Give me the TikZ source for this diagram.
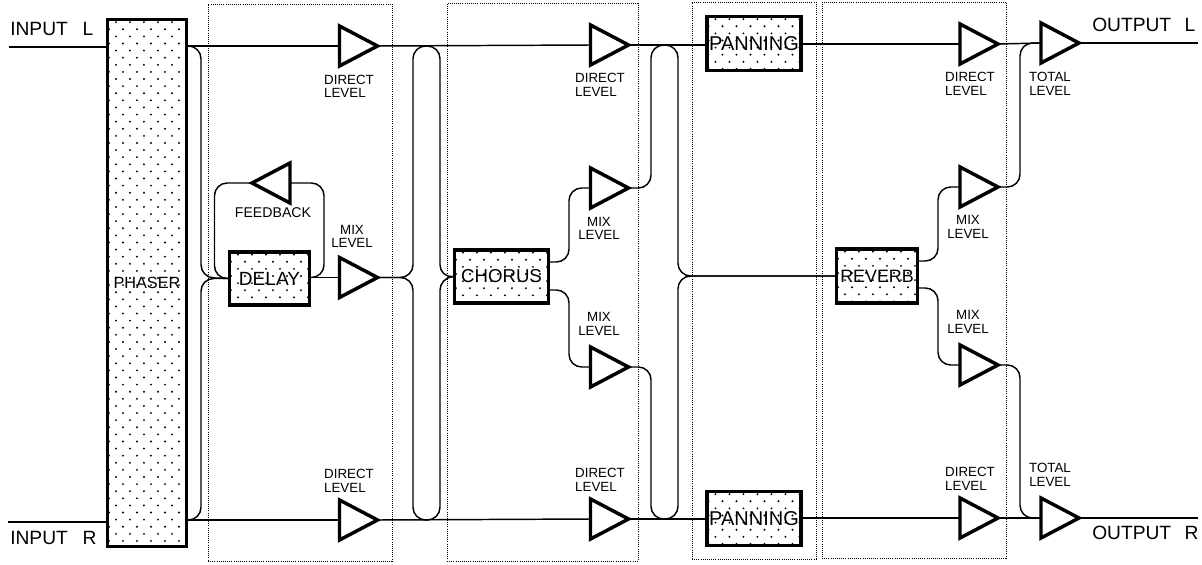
\documentclass[tikz,border=0pt]{standalone}
\usepackage{fontspec}
\setmainfont{Liberation Sans}
\usetikzlibrary{shapes.geometric}
\newcommand{\fs}[1]{\fontsize{#1}{#1}\selectfont}
\tikzset{
  x=0.75pt,y=-0.75pt,
  wire/.style={line width=1.1pt,rounded corners=9.5pt},
  frame/.style={draw,densely dotted,line width=0.6pt},
  amp/.style={draw,line width=2.6pt,isosceles triangle,isosceles triangle apex angle=55,isosceles triangle stretches,
    minimum width=30pt,minimum height=28.5pt,inner sep=0pt,outer sep=0pt,fill=white,anchor=lower side},
  ampr/.style={amp,shape border rotate=0},
  ampl/.style={amp,shape border rotate=180},
  stipple/.style={draw,line width=2.4pt,fill=white,inner sep=0pt,outer sep=0pt,align=center,
    path picture={
      \foreach \i in {0,...,75}{\foreach \j in {-1,...,7}{
        \pgfmathsetmacro\xx{\j*10.5+1.1+(1-mod(\i,2))*5.25}
        \pgfmathsetmacro\yy{2+\i*5.33}
        \fill[black] ([xshift=\xx pt,yshift=-\yy pt]path picture bounding box.north west) circle (0.8pt);
      }}}},
  lab/.style={font=\fs{10},align=left,inner sep=0pt},
  io/.style={font=\fs{14.4},inner sep=0pt,anchor=west}
}
\begin{document}
\begin{tikzpicture}
\useasboundingbox (0,0) rectangle (1202,564);
\fill[white] (0,0) rectangle (1202,564);
% dotted section frames
\node[frame,minimum width=138pt,minimum height=417.75pt,inner sep=0pt] (secA) at (300,282.5) {};
\node[frame,minimum width=143.25pt,minimum height=418.5pt,inner sep=0pt] (secB) at (542.5,282) {};
\node[frame,minimum width=93pt,minimum height=417.75pt,inner sep=0pt] (secC) at (754,280.5) {};
\node[frame,minimum width=138pt,minimum height=417pt,inner sep=0pt] (secD) at (914,280) {};
% boxes
\node[stipple,minimum width=59.25pt,minimum height=395.25pt] (phaser) at (147,283) {\fs{12.2}PHASER};
\node[stipple,minimum width=60pt,minimum height=39.75pt] (delay) at (269.5,278.5) {\fs{14.3}DELAY};
\node[stipple,minimum width=70.5pt,minimum height=39.75pt] (chorus) at (501.5,276.5) {\fs{14}CHORUS};
\node[stipple,minimum width=70.5pt,minimum height=40.5pt] (panT) at (754,43.5) {\fs{15}PANNING};
\node[stipple,minimum width=70.5pt,minimum height=40.5pt] (panB) at (754,518.5) {\fs{15}PANNING};
\node[stipple,minimum width=60.75pt,minimum height=40.5pt] (reverb) at (877,276) {\fs{13.4}REVERB};
% amplifiers
\node[ampr] (a1t) at (339.5,46) {};
\node[ampr] (a1m) at (339.5,277.5) {};
\node[ampr] (a1b) at (339.5,520) {};
\node[ampl,anchor=lower side] (fb) at (290,183) {};
\node[ampr] (a2t) at (590.5,45) {};
\node[ampr] (a2u) at (590.5,188) {};
\node[ampr] (a2d) at (590.5,367) {};
\node[ampr] (a2b) at (590.5,519) {};
\node[ampr] (a3t) at (960,44) {};
\node[ampr] (a3u) at (960,187) {};
\node[ampr] (a3d) at (960,365) {};
\node[ampr] (a3b) at (960,518) {};
\node[ampr] (totL) at (1041,43) {};
\node[ampr] (totR) at (1041,518) {};
% free ends
\coordinate (inL) at (9,47);
\coordinate (inR) at (8,522);
\coordinate (outL) at (1198,43);
\coordinate (outR) at (1198,518);
% phaser to direct
\draw[wire] (inL) -- (phaser.west |- inL);
\draw[wire] (inR) -- (phaser.west |- inR);
\draw[wire] (phaser.east |- a1t) -- (a1t.lower side);
\draw[wire] (phaser.east |- a1b) -- (a1b.lower side);
\draw[wire] (phaser.east |- a1t) -- (201,46) -- (201,277.5) -- (delay.west);
\draw[wire] (phaser.east |- a1b) -- (201,520) -- (201,278.5) -- (delay.west);
% feedback
\draw[wire] (delay.west) -- (214.5,278.5) -- (214.5,183) -- (fb.apex);
\draw[wire] (fb.lower side) -- (324,183) -- (324,277.5) -- (delay.east |- a1m);
\draw[wire] (delay.east |- a1m) -- (a1m.lower side);
% to chorus
\draw[wire] (a1t.apex) -- (a2t.lower side);
\draw[wire] (a1b.apex) -- (a2b.lower side);
\draw[wire] (a1m.apex) -- (413,277.5) -- (413,46) -- (427,46);
\draw[wire] (a1m.apex) -- (413,277.5) -- (413,520) -- (427,520);
\draw[wire] (427,46) -- (440,46) -- (440,277.5) -- (chorus.west);
\draw[wire] (427,520) -- (440,520) -- (440,277.5) -- (chorus.west);
% chorus to mix
\draw[wire] (chorus.east |- 0,262) -- (569,262) -- (569,188) -- (a2u.lower side);
\draw[wire] (chorus.east |- 0,290) -- (569,290) -- (569,367) -- (a2d.lower side);
% to panning and reverb
\draw[wire] (a2t.apex) -- (panT.west |- a2t);
\draw[wire] (a2b.apex) -- (panB.west |- a2b);
\draw[wire] (a2u.apex) -- (651,188) -- (651,45) -- (665,45);
\draw[wire] (a2d.apex) -- (651,367) -- (651,519) -- (665,519);
\draw[wire] (665,45) -- (678,45) -- (678,276) -- (reverb.west);
\draw[wire] (665,519) -- (678,519) -- (678,276) -- (reverb.west);
\draw[wire] (reverb.east |- 0,261) -- (938,261) -- (938,187) -- (a3u.lower side);
\draw[wire] (reverb.east |- 0,288) -- (938,288) -- (938,365) -- (a3d.lower side);
\draw[wire] (panT.east |- a3t) -- (a3t.lower side);
\draw[wire] (panB.east |- a3b) -- (a3b.lower side);
% totals
\draw[wire] (a3t.apex) -- (totL.lower side);
\draw[wire] (a3b.apex) -- (totR.lower side);
\draw[wire] (a3u.apex) -- (1020,187) -- (1020,43) -- (totL.lower side);
\draw[wire] (a3d.apex) -- (1020,365) -- (1020,518) -- (totR.lower side);
\draw[wire] (totL.apex) -- (outL);
\draw[wire] (totR.apex) -- (outR);
% labels
\node[io] (tInL) at (10,29) {INPUT\hspace{11pt}L};
\node[io] (tInR) at (10,538) {INPUT\hspace{11pt}R};
\node[io] (tOutL) at (1092,25) {OUTPUT\hspace{10pt}L};
\node[io] (tOutR) at (1092,533) {OUTPUT\hspace{10pt}R};
\node[lab] (l1) at (349,86.5) {DIRECT\\LEVEL};
\node[lab] (l2) at (349,481) {DIRECT\\LEVEL};
\node[lab,align=center] (l3) at (352,236.5) {MIX\\LEVEL};
\node[font=\fs{10.6},inner sep=0pt] (l4) at (273,213) {FEEDBACK};
\node[lab] (l5) at (600,85) {DIRECT\\LEVEL};
\node[lab] (l6) at (600,480) {DIRECT\\LEVEL};
\node[lab,align=center] (l7) at (599,228.5) {MIX\\LEVEL};
\node[lab,align=center] (l8) at (599,324) {MIX\\LEVEL};
\node[lab] (l9) at (970,84) {DIRECT\\LEVEL};
\node[lab] (l10) at (970,479) {DIRECT\\LEVEL};
\node[lab,align=center] (l11) at (968,227) {MIX\\LEVEL};
\node[lab,align=center] (l12) at (968,322) {MIX\\LEVEL};
\node[lab,align=center] (l13) at (1050,84) {TOTAL\\LEVEL};
\node[lab,align=center] (l14) at (1050,475) {TOTAL\\LEVEL};
\end{tikzpicture}
\end{document}
